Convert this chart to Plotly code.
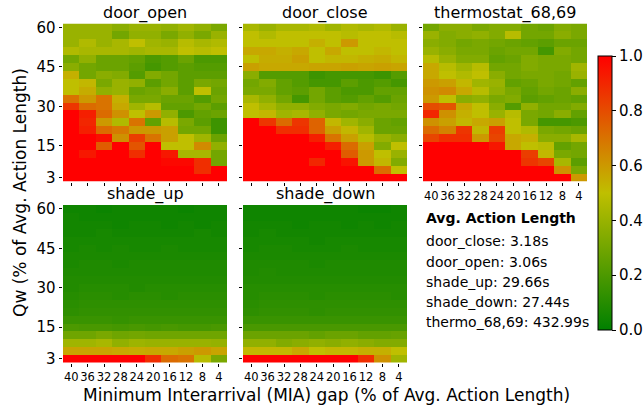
import plotly.graph_objects as go

MIA = [40, 36, 32, 28, 24, 20, 16, 12, 8, 4]
MIA_LABELS = ["40", "36", "32", "28", "24", "20", "16", "12", "8", "4"]
QW = [60, 57, 54, 51, 48, 45, 42, 39, 36, 33, 30, 27, 24, 21, 18, 15, 12, 9, 6, 3]
QW_TICKS = [3, 15, 30, 45, 60]

# rows listed top (Qw=60) to bottom (Qw=3); columns MIA 40 -> 4
door_open = [
    [0.40, 0.40, 0.40, 0.36, 0.40, 0.40, 0.38, 0.42, 0.38, 0.32],
    [0.40, 0.40, 0.40, 0.30, 0.38, 0.38, 0.32, 0.38, 0.32, 0.40],
    [0.40, 0.46, 0.40, 0.44, 0.50, 0.42, 0.40, 0.48, 0.44, 0.46],
    [0.46, 0.44, 0.44, 0.44, 0.42, 0.44, 0.44, 0.50, 0.48, 0.50],
    [0.30, 0.38, 0.28, 0.28, 0.26, 0.20, 0.22, 0.28, 0.20, 0.20],
    [0.36, 0.30, 0.28, 0.28, 0.24, 0.18, 0.22, 0.24, 0.22, 0.22],
    [0.54, 0.30, 0.36, 0.34, 0.22, 0.34, 0.30, 0.24, 0.24, 0.24],
    [0.50, 0.52, 0.32, 0.40, 0.38, 0.24, 0.30, 0.24, 0.32, 0.30],
    [0.50, 0.55, 0.38, 0.40, 0.28, 0.30, 0.36, 0.24, 0.50, 0.28],
    [0.70, 0.60, 0.70, 0.54, 0.32, 0.32, 0.28, 0.28, 0.22, 0.30],
    [0.86, 0.72, 0.70, 0.56, 0.42, 0.48, 0.26, 0.26, 0.30, 0.24],
    [1.00, 0.92, 0.72, 0.62, 0.50, 0.60, 0.38, 0.20, 0.26, 0.28],
    [1.00, 0.90, 0.60, 0.46, 0.70, 0.26, 0.48, 0.32, 0.24, 0.16],
    [1.00, 0.92, 0.72, 0.68, 0.60, 0.60, 0.58, 0.30, 0.30, 0.16],
    [1.00, 1.00, 0.96, 0.62, 0.84, 0.70, 0.58, 0.50, 0.42, 0.28],
    [1.00, 1.00, 0.76, 1.00, 0.78, 1.00, 0.50, 0.50, 0.64, 0.38],
    [1.00, 0.94, 1.00, 1.00, 0.88, 1.00, 0.94, 0.44, 0.44, 0.30],
    [1.00, 1.00, 1.00, 1.00, 1.00, 1.00, 0.98, 0.98, 0.88, 0.30],
    [1.00, 1.00, 1.00, 1.00, 1.00, 1.00, 1.00, 1.00, 0.88, 1.00],
    [1.00, 1.00, 1.00, 1.00, 1.00, 1.00, 1.00, 1.00, 1.00, 1.00],
]

door_close = [
    [0.44, 0.40, 0.44, 0.44, 0.46, 0.42, 0.46, 0.44, 0.46, 0.40],
    [0.50, 0.46, 0.50, 0.50, 0.50, 0.50, 0.48, 0.50, 0.50, 0.48],
    [0.50, 0.50, 0.50, 0.50, 0.54, 0.50, 0.60, 0.50, 0.50, 0.50],
    [0.56, 0.56, 0.54, 0.56, 0.50, 0.56, 0.50, 0.50, 0.52, 0.50],
    [0.50, 0.55, 0.55, 0.58, 0.50, 0.52, 0.52, 0.54, 0.55, 0.52],
    [0.58, 0.56, 0.56, 0.56, 0.57, 0.57, 0.58, 0.57, 0.58, 0.57],
    [0.36, 0.22, 0.22, 0.22, 0.16, 0.18, 0.18, 0.18, 0.16, 0.22],
    [0.30, 0.34, 0.26, 0.22, 0.18, 0.18, 0.24, 0.20, 0.22, 0.18],
    [0.32, 0.32, 0.26, 0.24, 0.30, 0.24, 0.20, 0.20, 0.26, 0.26],
    [0.44, 0.38, 0.30, 0.18, 0.30, 0.24, 0.22, 0.26, 0.22, 0.28],
    [0.50, 0.44, 0.38, 0.38, 0.34, 0.32, 0.34, 0.30, 0.32, 0.30],
    [0.50, 0.52, 0.42, 0.44, 0.38, 0.32, 0.30, 0.32, 0.32, 0.32],
    [1.00, 0.86, 0.72, 0.86, 0.74, 0.52, 0.42, 0.36, 0.28, 0.26],
    [1.00, 1.00, 0.88, 0.88, 0.74, 0.58, 0.52, 0.42, 0.28, 0.28],
    [1.00, 1.00, 1.00, 1.00, 0.92, 0.70, 0.58, 0.48, 0.40, 0.36],
    [1.00, 1.00, 1.00, 1.00, 1.00, 0.92, 0.72, 0.58, 0.34, 0.50],
    [1.00, 1.00, 1.00, 1.00, 1.00, 1.00, 0.76, 0.60, 0.50, 0.40],
    [1.00, 1.00, 1.00, 1.00, 0.90, 1.00, 0.95, 0.60, 0.52, 0.34],
    [1.00, 1.00, 1.00, 1.00, 1.00, 1.00, 1.00, 1.00, 0.72, 0.50],
    [1.00, 1.00, 1.00, 1.00, 1.00, 1.00, 1.00, 1.00, 1.00, 1.00],
]

thermostat = [
    [0.30, 0.36, 0.36, 0.32, 0.34, 0.34, 0.30, 0.28, 0.34, 0.32],
    [0.40, 0.34, 0.36, 0.38, 0.34, 0.48, 0.30, 0.30, 0.36, 0.32],
    [0.36, 0.34, 0.30, 0.32, 0.30, 0.28, 0.26, 0.24, 0.28, 0.28],
    [0.40, 0.36, 0.32, 0.32, 0.28, 0.30, 0.30, 0.18, 0.34, 0.30],
    [0.48, 0.40, 0.34, 0.34, 0.26, 0.28, 0.34, 0.32, 0.32, 0.30],
    [0.56, 0.48, 0.42, 0.48, 0.30, 0.30, 0.34, 0.32, 0.32, 0.42],
    [0.56, 0.50, 0.46, 0.50, 0.36, 0.30, 0.32, 0.32, 0.30, 0.40],
    [0.60, 0.58, 0.52, 0.42, 0.40, 0.26, 0.28, 0.32, 0.30, 0.26],
    [0.62, 0.64, 0.56, 0.48, 0.38, 0.32, 0.26, 0.30, 0.28, 0.36],
    [0.60, 0.50, 0.36, 0.38, 0.32, 0.34, 0.24, 0.26, 0.28, 0.26],
    [0.80, 0.78, 0.56, 0.50, 0.36, 0.22, 0.38, 0.30, 0.30, 0.34],
    [0.90, 0.62, 0.54, 0.50, 0.40, 0.48, 0.32, 0.30, 0.36, 0.26],
    [0.62, 0.58, 0.52, 0.56, 0.58, 0.50, 0.32, 0.18, 0.18, 0.20],
    [0.72, 0.66, 0.86, 0.52, 0.84, 0.50, 0.46, 0.32, 0.30, 0.28],
    [0.82, 0.88, 0.88, 0.60, 0.82, 0.56, 0.54, 0.36, 0.36, 0.44],
    [1.00, 1.00, 1.00, 1.00, 0.94, 0.56, 0.50, 0.48, 0.26, 0.30],
    [1.00, 1.00, 1.00, 1.00, 1.00, 1.00, 0.84, 0.52, 0.32, 0.30],
    [1.00, 1.00, 1.00, 1.00, 1.00, 1.00, 0.86, 0.82, 0.44, 0.24],
    [1.00, 1.00, 1.00, 1.00, 1.00, 1.00, 1.00, 1.00, 0.62, 0.32],
    [1.00, 1.00, 1.00, 1.00, 1.00, 1.00, 1.00, 1.00, 1.00, 0.60],
]

shade_up = [
    [0.04, 0.04, 0.03, 0.04, 0.04, 0.04, 0.04, 0.03, 0.04, 0.04],
    [0.05, 0.04, 0.04, 0.04, 0.04, 0.04, 0.04, 0.04, 0.04, 0.04],
    [0.05, 0.05, 0.05, 0.04, 0.05, 0.05, 0.04, 0.05, 0.04, 0.05],
    [0.05, 0.05, 0.06, 0.05, 0.05, 0.05, 0.05, 0.05, 0.06, 0.05],
    [0.06, 0.06, 0.06, 0.06, 0.06, 0.06, 0.06, 0.06, 0.06, 0.06],
    [0.06, 0.07, 0.06, 0.07, 0.06, 0.06, 0.07, 0.06, 0.06, 0.06],
    [0.07, 0.07, 0.07, 0.07, 0.07, 0.07, 0.07, 0.07, 0.07, 0.07],
    [0.07, 0.08, 0.08, 0.07, 0.08, 0.08, 0.08, 0.08, 0.08, 0.08],
    [0.08, 0.08, 0.08, 0.08, 0.08, 0.08, 0.08, 0.08, 0.08, 0.08],
    [0.09, 0.09, 0.09, 0.09, 0.09, 0.09, 0.09, 0.09, 0.09, 0.09],
    [0.09, 0.10, 0.10, 0.10, 0.09, 0.10, 0.10, 0.10, 0.10, 0.10],
    [0.10, 0.11, 0.11, 0.10, 0.11, 0.11, 0.10, 0.11, 0.11, 0.11],
    [0.11, 0.12, 0.12, 0.12, 0.12, 0.12, 0.12, 0.12, 0.12, 0.12],
    [0.12, 0.13, 0.13, 0.13, 0.13, 0.13, 0.13, 0.13, 0.13, 0.13],
    [0.15, 0.15, 0.15, 0.14, 0.15, 0.15, 0.15, 0.15, 0.15, 0.15],
    [0.20, 0.19, 0.19, 0.18, 0.19, 0.18, 0.19, 0.18, 0.18, 0.19],
    [0.29, 0.29, 0.32, 0.29, 0.30, 0.29, 0.29, 0.29, 0.29, 0.29],
    [0.42, 0.42, 0.44, 0.38, 0.41, 0.40, 0.40, 0.40, 0.40, 0.39],
    [0.57, 0.57, 0.57, 0.56, 0.55, 0.56, 0.56, 0.58, 0.60, 0.57],
    [1.00, 1.00, 1.00, 1.00, 1.00, 0.88, 0.72, 0.70, 0.48, 0.32],
]

shade_down = [
    [0.04, 0.04, 0.04, 0.04, 0.04, 0.04, 0.04, 0.03, 0.03, 0.04],
    [0.04, 0.04, 0.04, 0.04, 0.04, 0.04, 0.04, 0.04, 0.04, 0.04],
    [0.05, 0.05, 0.05, 0.04, 0.05, 0.05, 0.04, 0.05, 0.04, 0.05],
    [0.05, 0.06, 0.05, 0.05, 0.05, 0.05, 0.05, 0.05, 0.05, 0.05],
    [0.06, 0.06, 0.06, 0.06, 0.05, 0.06, 0.06, 0.06, 0.06, 0.06],
    [0.06, 0.07, 0.07, 0.06, 0.06, 0.06, 0.07, 0.06, 0.06, 0.06],
    [0.07, 0.07, 0.07, 0.07, 0.07, 0.07, 0.07, 0.07, 0.07, 0.07],
    [0.08, 0.08, 0.08, 0.08, 0.07, 0.08, 0.08, 0.08, 0.08, 0.08],
    [0.08, 0.09, 0.08, 0.08, 0.08, 0.08, 0.08, 0.08, 0.08, 0.08],
    [0.09, 0.09, 0.09, 0.09, 0.09, 0.09, 0.09, 0.09, 0.09, 0.09],
    [0.10, 0.10, 0.10, 0.10, 0.10, 0.10, 0.10, 0.10, 0.10, 0.10],
    [0.10, 0.11, 0.11, 0.11, 0.10, 0.11, 0.11, 0.11, 0.11, 0.10],
    [0.11, 0.12, 0.12, 0.12, 0.12, 0.12, 0.12, 0.12, 0.12, 0.12],
    [0.12, 0.13, 0.13, 0.13, 0.12, 0.13, 0.13, 0.13, 0.13, 0.13],
    [0.15, 0.15, 0.15, 0.15, 0.15, 0.15, 0.15, 0.15, 0.15, 0.15],
    [0.19, 0.19, 0.19, 0.19, 0.19, 0.19, 0.19, 0.19, 0.19, 0.19],
    [0.28, 0.28, 0.28, 0.28, 0.26, 0.28, 0.28, 0.26, 0.26, 0.27],
    [0.38, 0.38, 0.34, 0.36, 0.38, 0.36, 0.38, 0.36, 0.34, 0.34],
    [0.52, 0.52, 0.52, 0.56, 0.50, 0.52, 0.52, 0.54, 0.54, 0.50],
    [1.00, 1.00, 1.00, 1.00, 1.00, 1.00, 1.00, 0.88, 0.62, 0.42],
]

PANELS = [
    ("door_open", door_open),
    ("door_close", door_close),
    ("thermostat_68,69", thermostat),
    ("shade_up", shade_up),
    ("shade_down", shade_down),
]

INFO_TITLE = "Avg. Action Length"
INFO_LINES = [
    "door_close: 3.18s",
    "door_open: 3.06s",
    "shade_up: 29.66s",
    "shade_down: 27.44s",
    "thermo_68,69: 432.99s",
]

W, H = 643, 408
FONT = "DejaVu Sans"
COLORSCALE = [[0.0, "rgb(0,128,0)"], [0.5, "rgb(191,191,0)"], [1.0, "rgb(255,0,0)"]]

col_px = [(63, 227), (243, 407), (423, 587)]
row_px = [(23.5, 181.5), (205, 362.5)]
positions = [(0, 0), (0, 1), (0, 2), (1, 0), (1, 1)]

fig = go.Figure()
annotations = []
layout = {}

for i, ((name, z), (r, c)) in enumerate(zip(PANELS, positions)):
    k = "" if i == 0 else str(i + 1)
    fig.add_trace(go.Heatmap(
        z=z, x=MIA, y=QW, zmin=0, zmax=1, colorscale=COLORSCALE,
        xaxis="x" + k, yaxis="y" + k,
        showscale=(i == 0),
        colorbar=dict(
            x=598 / W, xanchor="left", thickness=14,
            len=(330 - 56) / H, lenmode="fraction",
            y=1 - (56 + 330) / 2 / H, yanchor="middle",
            xpad=0, ypad=0,
            outlinewidth=1, outlinecolor="black",
            tickvals=[0, 0.2, 0.4, 0.6, 0.8, 1.0],
            ticktext=["0.0", "0.2", "0.4", "0.6", "0.8", "1.0"],
            ticks="outside", ticklen=4, tickcolor="black",
            tickfont=dict(family=FONT, size=15, color="black"),
        ),
        hoverinfo="skip",
    ))
    x0, x1 = col_px[c]
    y0, y1 = row_px[r]
    show_x = (i >= 2)
    show_y = (c == 0)
    layout["xaxis" + k] = dict(
        domain=[x0 / W, x1 / W], anchor="y" + k, range=[42, 2],
        tickvals=MIA, ticktext=MIA_LABELS, showticklabels=show_x,
        tickangle=0, automargin=False,
        ticks="outside", ticklen=3.5, tickcolor="black", tickwidth=1,
        tickfont=dict(family=FONT, size=11.5, color="black"),
        showgrid=False, zeroline=False, showline=False, fixedrange=True,
    )
    layout["yaxis" + k] = dict(
        domain=[1 - y1 / H, 1 - y0 / H], anchor="x" + k, range=[1.5, 61.5],
        tickvals=QW_TICKS, ticktext=[str(v) for v in QW_TICKS], showticklabels=show_y,
        automargin=False,
        ticks="outside", ticklen=3.5, tickcolor="black", tickwidth=1,
        tickfont=dict(family=FONT, size=15, color="black"),
        showgrid=False, zeroline=False, showline=False, fixedrange=True,
    )
    annotations.append(dict(
        text=name, x=(x0 + x1) / 2 / W, y=1 - (y0 - 11) / H,
        xref="paper", yref="paper", xanchor="center", yanchor="middle",
        showarrow=False, font=dict(family=FONT, size=16, color="black"),
    ))

annotations.append(dict(
    text="Qw (% of Avg. Action Length)", x=20 / W, y=1 - 193 / H,
    xref="paper", yref="paper", xanchor="center", yanchor="middle", textangle=-90,
    showarrow=False, font=dict(family=FONT, size=17, color="black"),
))
annotations.append(dict(
    text="Minimum Interarrival (MIA) gap (% of Avg. Action Length)", x=326 / W, y=1 - 395 / H,
    xref="paper", yref="paper", xanchor="center", yanchor="middle",
    showarrow=False, font=dict(family=FONT, size=17, color="black"),
))
annotations.append(dict(
    text="<b>" + INFO_TITLE + "</b>", x=424 / W, y=1 - 218 / H,
    xref="paper", yref="paper", xanchor="left", yanchor="middle",
    showarrow=False, font=dict(family=FONT, size=14, color="black"),
))
line_y = [241, 262, 282, 302, 322]
for txt, yy in zip(INFO_LINES, line_y):
    annotations.append(dict(
        text=txt, x=424 / W, y=1 - yy / H,
        xref="paper", yref="paper", xanchor="left", yanchor="middle",
        showarrow=False, font=dict(family=FONT, size=14, color="black"),
    ))

fig.update_layout(
    width=W, height=H, margin=dict(l=0, r=0, t=0, b=0, autoexpand=False),
    paper_bgcolor="white", plot_bgcolor="white",
    annotations=annotations, showlegend=False,
    font=dict(family=FONT, color="black"),
    **layout,
)

fig.write_html(
    "out.html", include_plotlyjs=True, config={"displayModeBar": False},
    post_script="document.body.style.margin='0';document.body.style.padding='0';",
)
